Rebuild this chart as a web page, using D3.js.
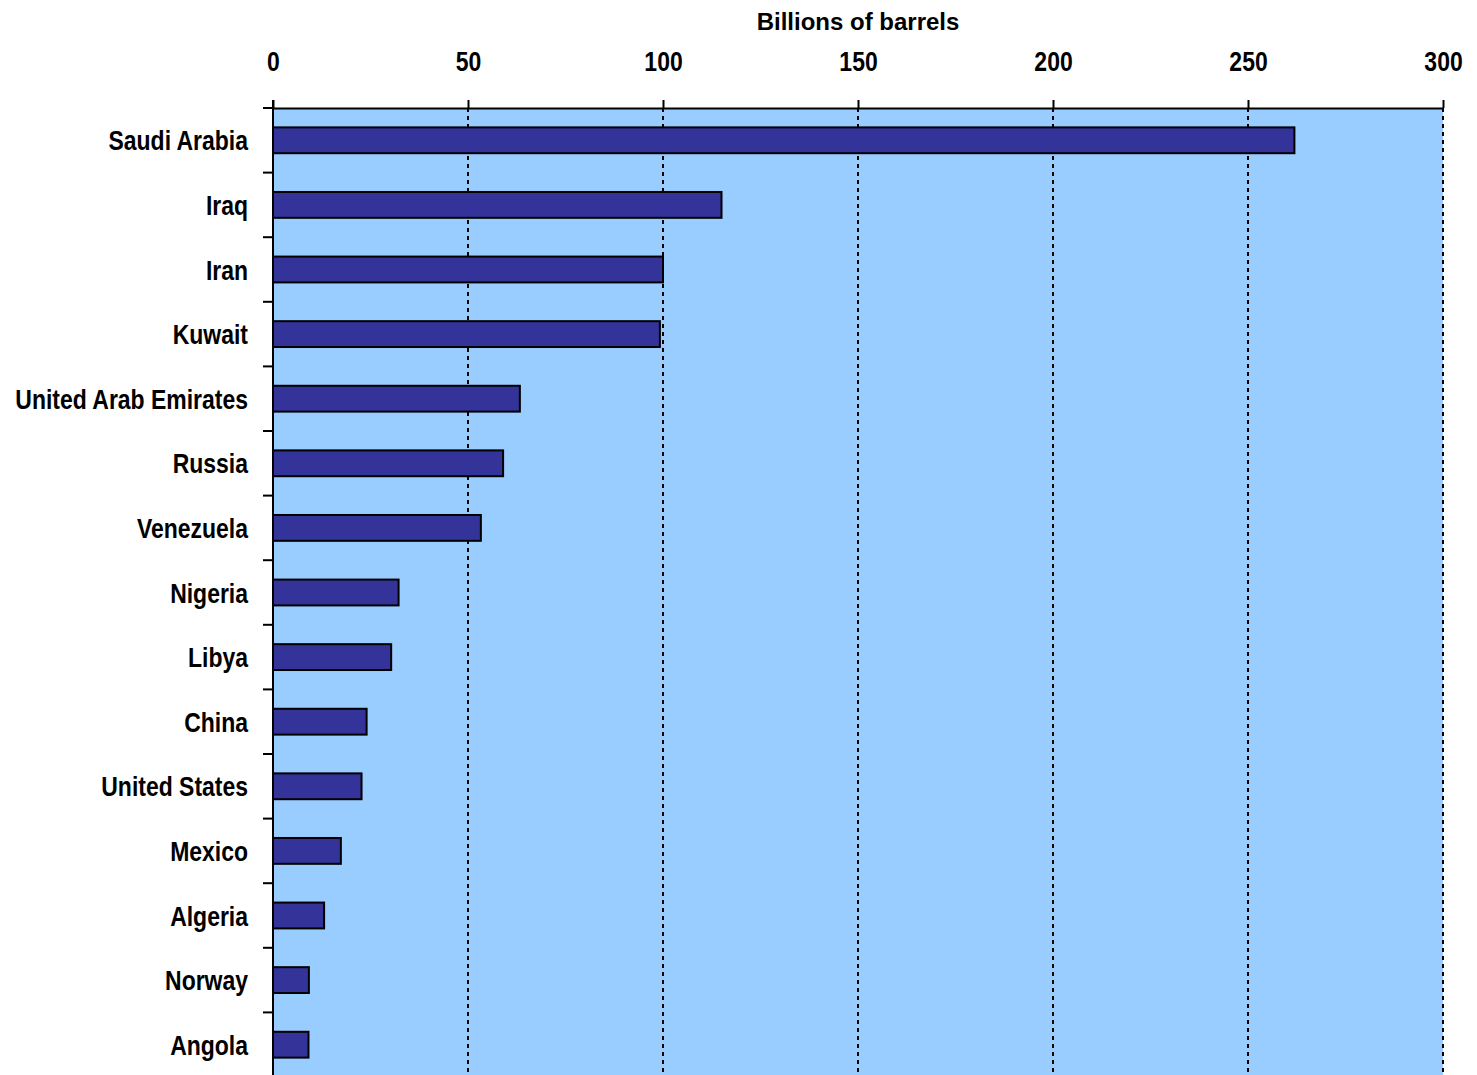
<!DOCTYPE html>
<html>
<head>
<meta charset="utf-8">
<script src="https://cdn.jsdelivr.net/npm/d3@7"></script>
<style>
  html, body { margin: 0; padding: 0; background: #ffffff; }
  svg { display: block; }
  .narrow { font-family: "Liberation Sans", Arial, sans-serif; font-weight: bold; }
</style>
</head>
<body>
<svg id="chart" width="1477" height="1075"></svg>
<script>
// Proven oil reserves by country (billions of barrels)
const countries = [
  "Saudi Arabia", "Iraq", "Iran", "Kuwait", "United Arab Emirates",
  "Russia", "Venezuela", "Nigeria", "Libya", "China",
  "United States", "Mexico", "Algeria", "Norway", "Angola"
];
const reserves = [261.9, 115, 100, 99.2, 63.3, 59.0, 53.3, 32.2, 30.3, 24.0, 22.7, 17.4, 13.1, 9.2, 9.1];
const xTicks = [0, 50, 100, 150, 200, 250, 300];
const axisTitle = "Billions of barrels";

const svg = d3.select("#chart");
const plotLeft = 273, plotRight = 1443, plotTop = 108, plotBottom = 1077;

const x = d3.scaleLinear().domain([0, 300]).range([plotLeft, plotRight]);
const y = d3.scaleBand().domain(countries).range([plotTop, plotBottom])
  .paddingInner(0.6).paddingOuter(0.3);

// condensed look: squeeze glyphs horizontally
function condense(sel, factor) {
  sel.each(function () {
    const w = this.getComputedTextLength();
    d3.select(this)
      .attr("textLength", w * factor)
      .attr("lengthAdjust", "spacingAndGlyphs");
  });
}

// plot background
svg.append("rect")
  .attr("x", plotLeft).attr("y", plotTop)
  .attr("width", plotRight - plotLeft).attr("height", plotBottom - plotTop)
  .attr("fill", "#99CCFF");

// dotted vertical gridlines
svg.append("g").selectAll("line")
  .data(xTicks.filter(d => d > 0))
  .join("line")
  .attr("x1", d => x(d)).attr("x2", d => x(d))
  .attr("y1", plotTop).attr("y2", plotBottom)
  .attr("stroke", "#000").attr("stroke-width", 2)
  .attr("stroke-dasharray", "4,4");

// bars
svg.append("g").selectAll("rect")
  .data(countries.map((c, i) => ({ c, v: reserves[i] })))
  .join("rect")
  .attr("x", x(0))
  .attr("y", d => y(d.c))
  .attr("width", d => x(d.v) - x(0))
  .attr("height", y.bandwidth())
  .attr("fill", "#333399")
  .attr("stroke", "#000")
  .attr("stroke-width", 2);

// top value axis
const xAxis = svg.append("g")
  .attr("transform", `translate(0,${plotTop})`)
  .call(d3.axisTop(x).tickValues(xTicks).tickFormat(d3.format("d"))
    .tickSize(8).tickSizeOuter(0).tickPadding(29));
xAxis.select(".domain").attr("stroke", "#000").attr("stroke-width", 2);
xAxis.selectAll(".tick line").attr("stroke", "#000").attr("stroke-width", 2);
xAxis.selectAll(".tick text")
  .attr("class", "narrow")
  .attr("font-size", 28)
  .attr("fill", "#000")
  .call(condense, 0.82);

// category axis: labels at band centres, ticks at band boundaries
const yAxis = svg.append("g")
  .attr("transform", `translate(${plotLeft},0)`)
  .call(d3.axisLeft(y).tickSize(0).tickPadding(25).tickSizeOuter(0));
yAxis.select(".domain").remove();
yAxis.selectAll(".tick text")
  .attr("class", "narrow")
  .attr("font-size", 28)
  .attr("dy", "0.36em")
  .attr("fill", "#000")
  .call(condense, 0.82);

const boundaries = countries.map(c => y(c) - y.step() * y.paddingInner() / 2)
  .concat([plotBottom]);
svg.append("g").selectAll("line")
  .data(boundaries)
  .join("line")
  .attr("x1", plotLeft - 10).attr("x2", plotLeft)
  .attr("y1", d => d).attr("y2", d => d)
  .attr("stroke", "#000").attr("stroke-width", 2);

svg.append("line")
  .attr("x1", plotLeft).attr("x2", plotLeft)
  .attr("y1", plotTop - 8).attr("y2", plotBottom)
  .attr("stroke", "#000").attr("stroke-width", 2);

// axis title
svg.append("text")
  .attr("x", (plotLeft + plotRight) / 2).attr("y", 30)
  .attr("text-anchor", "middle")
  .attr("font-family", "'Liberation Sans', Arial, sans-serif")
  .attr("font-weight", "bold")
  .attr("font-size", 24)
  .attr("fill", "#000")
  .text(axisTitle);
</script>
</body>
</html>
